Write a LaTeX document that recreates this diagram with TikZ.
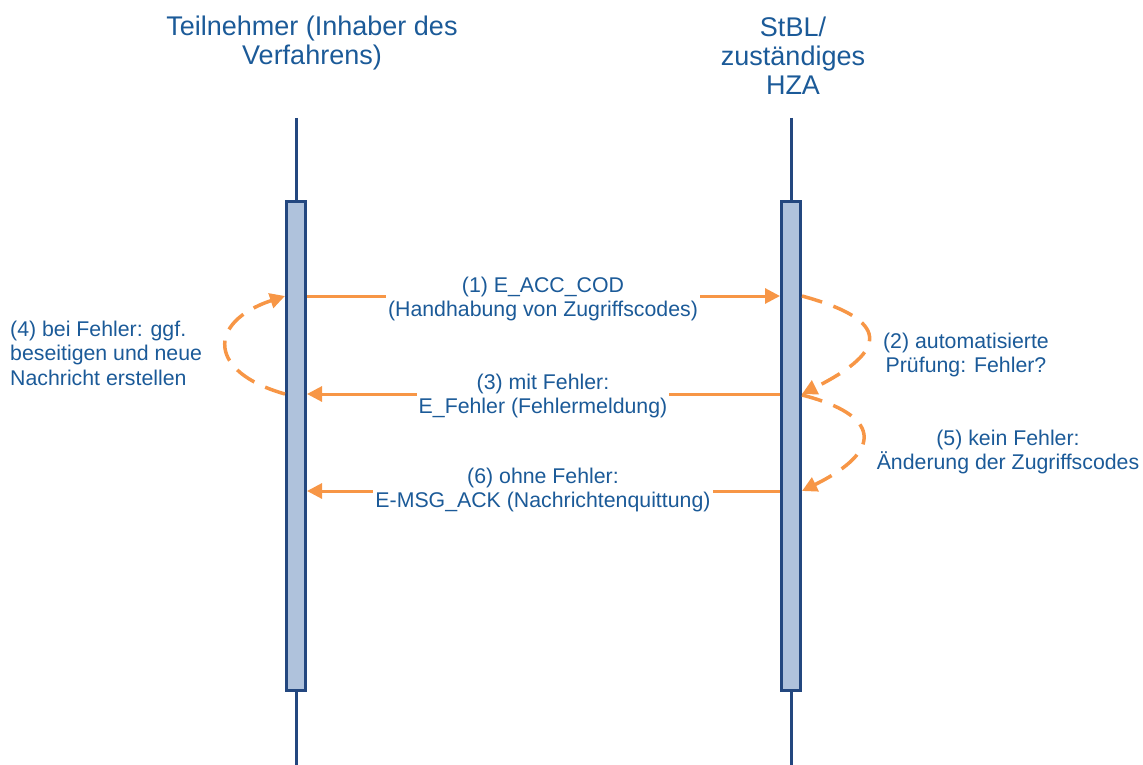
\documentclass[tikz,border=0pt]{standalone}
\usepackage{fontspec}
\setmainfont{Liberation Sans}
\usetikzlibrary{arrows.meta}
\definecolor{txtblue}{HTML}{1B5A98}
\definecolor{navy}{HTML}{23477F}
\definecolor{boxfill}{HTML}{AFC2DC}
\definecolor{orng}{HTML}{F79646}
\begin{document}
\begin{tikzpicture}[x=1pt,y=-1pt,
  lifeline/.style={draw=navy, line width=3pt},
  actbox/.style={draw=navy, line width=3pt, fill=boxfill, minimum width=19pt, minimum height=489pt, inner sep=0pt},
  msg/.style={draw=orng, line width=3pt, -{Triangle[length=15pt,width=15pt]}},
  selfmsg/.style={draw=orng, line width=3.5pt, dash pattern=on 21pt off 12pt, -{Triangle[length=15pt,width=15pt]}},
  lbl/.style={text=txtblue, font=\fontsize{21.3}{24.5}\selectfont, align=center, fill=white, inner sep=2pt},
  ttl/.style={text=txtblue, font=\fontsize{27}{29}\selectfont, align=center, inner sep=0pt}]
\useasboundingbox (0,0) rectangle (1143,765);
% titles
\node[ttl] (tl) at (312,43) {Teilnehmer (Inhaber des\\Verfahrens)};
\node[ttl] (tr) at (793,56) {StBL/\\zuständiges\\HZA};
% lifelines
\coordinate (Ltop) at (296,118);
\coordinate (Lbot) at (296,765);
\coordinate (Rtop) at (791,118);
\coordinate (Rbot) at (791,765);
\draw[lifeline] (Ltop) -- (Lbot);
\draw[lifeline] (Rtop) -- (Rbot);
% activation boxes
\node[actbox] (L) at (296,446) {};
\node[actbox] (R) at (791,446) {};
% messages
\draw[msg] (L.east |- 0,296) -- (R.west |- 0,296);
\draw[msg] (R.west |- 0,394) -- (L.east |- 0,394);
\draw[msg] (R.west |- 0,491) -- (L.east |- 0,491);
\node[lbl] (m1) at (543,299) {(1) E\_ACC\_COD\\(Handhabung von Zugriffscodes)};
\node[lbl] (m3) at (543,396) {(3) mit Fehler:\\E\_Fehler (Fehlermeldung)};
\node[lbl] (m6) at (543,490) {(6) ohne Fehler:\\E-MSG\_ACK (Nachrichtenquittung)};
% self messages
\draw[selfmsg] (L.west |- 0,394) .. controls (207,372) and (207,322) .. (L.west |- 0,296);
\draw[selfmsg] (R.east |- 0,296) .. controls (890,320) and (890,350) .. (R.east |- 0,394);
\draw[selfmsg] (R.east |- 0,395) .. controls (880,415) and (885,450) .. (R.east |- 0,491);
\node[lbl, align=left, anchor=west, fill=none] (s4) at (8,353) {(4) bei Fehler: ggf.\\beseitigen und neue\\Nachricht erstellen};
\node[lbl, fill=none] (s2) at (966,355) {(2) automatisierte\\Prüfung: Fehler?};
\node[lbl, fill=none] (s5) at (1008,452) {(5) kein Fehler:\\Änderung der Zugriffscodes};
\end{tikzpicture}
\end{document}
